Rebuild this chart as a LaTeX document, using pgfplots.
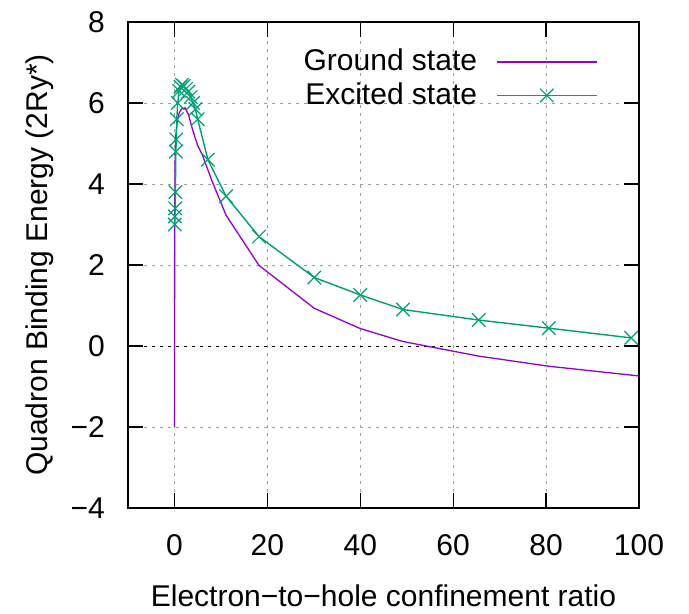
\documentclass[border=0pt]{standalone}
\usepackage{pgfplots}
\pgfplotsset{compat=1.18}
\usepackage{fontspec}
\setmainfont{Liberation Sans}
\definecolor{gpviolet}{HTML}{9400D3}
\definecolor{gpgreen}{HTML}{009E73}
\begin{document}
\fontsize{30}{36}\selectfont
\begin{tikzpicture}
\begin{axis}[
    name=ax,
    scale only axis,
    width=511pt, height=486pt,
    xmin=-10, xmax=100, ymin=-4, ymax=8,
    xtick={0,20,40,60,80,100},
    ytick={-4,-2,0,2,4,6,8},
    yticklabels={−4,−2,0,2,4,6,8},
    /pgf/number format/assume math mode=true,
    tick align=inside, major tick length=15pt,
    every tick/.style={draw=black, solid, line width=1.3pt},
    axis line style={draw=black, solid, line width=2.2pt},
    xmajorgrids, ymajorgrids,
    major grid style={draw=gray!75, line width=0.8pt, dash pattern=on 3pt off 5pt},
    xlabel={Electron−to−hole confinement ratio},
    ylabel={Quadron Binding Energy (2Ry*)},
    xlabel style={at={(axis description cs:0.5,-0.2037)}, anchor=base},
    ylabel style={at={(axis description cs:-0.1566,0.5)}, anchor=base},
    xticklabel style={yshift=-16pt},
    yticklabel style={xshift=-13pt},
    ticklabel style={font=\fontsize{30}{36}\selectfont},
    label style={font=\fontsize{30}{36}\selectfont},
    legend style={draw=none, fill=none, at={(axis description cs:0.925,0.953)},
        anchor=north east, font=\fontsize{30}{36}\selectfont,
        row sep=3pt, column sep=17pt},
    legend cell align=right,
    legend plot pos=right,
    legend image code/.code={
        \draw[#1, solid, mark=none] (0pt,0pt) -- (100pt,0pt);
        \draw[#1, only marks] plot coordinates {(50pt,0pt)};
    },
]
% dashed zero line
\draw[black, line width=0.8pt, dash pattern=on 3pt off 5pt] (axis cs:-10,0) -- (axis cs:100,0);
\addplot[draw=gpviolet, solid, line width=1.3pt, mark=none] coordinates {
    (0.0,-2.0) (0.05,3.0) (0.15,4.6) (0.3,5.2) (0.6,5.55) (1.0,5.75)
    (1.5,5.85) (2.3,5.88) (3.0,5.72) (4.0,5.3) (5.0,4.95) (6.0,4.72)
    (8.0,4.1) (11.1,3.23) (18.2,1.99) (30.1,0.93) (40.0,0.43)
    (49.2,0.11) (65.5,-0.25) (80.6,-0.50) (100,-0.74)
};
\addlegendentry{Ground state}
\addplot[draw=gpgreen, solid, line width=1.4pt, mark=x, mark size=9.5pt,
    mark options={draw=gpgreen, line width=1.2pt}] coordinates {
    (0.05,3.0) (0.1,3.2) (0.15,3.4) (0.2,3.8) (0.3,4.8) (0.4,5.1)
    (0.5,5.6) (0.7,6.0) (1.0,6.3) (1.3,6.4) (1.6,6.45) (2.0,6.42)
    (2.5,6.35) (3.0,6.28) (3.5,6.15) (4.0,6.0) (4.5,5.85) (5.0,5.6)
    (7.2,4.6) (11.1,3.7) (18.2,2.7) (30.1,1.69) (40.0,1.26)
    (49.2,0.90) (65.5,0.64) (80.6,0.44) (98.3,0.20)
};
\addlegendentry{Excited state}
\end{axis}
\pgfresetboundingbox
\path[use as bounding box] ([xshift=-128pt,yshift=-106pt]ax.south west)
    rectangle ([xshift=50pt,yshift=22pt]ax.north east);
\end{tikzpicture}
\end{document}
